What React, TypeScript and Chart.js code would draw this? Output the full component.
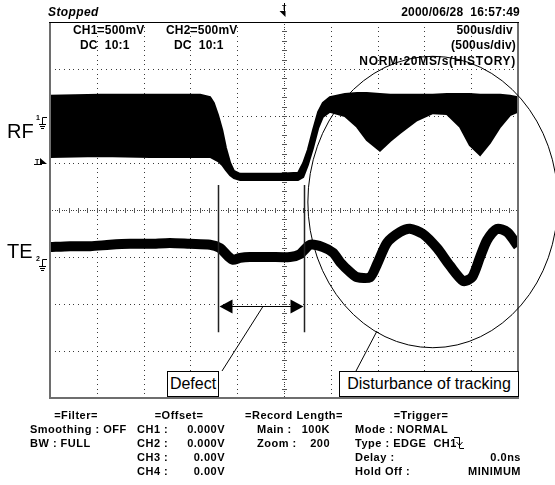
import React, { useEffect, useRef } from "react";
import { Chart, registerables } from "chart.js";

Chart.register(...registerables);

// ---- Data (x in divisions 0..10 at 500us/div, y in divisions -4..4) ----
const rfTime = [0, 1.07, 2.14, 3.21, 3.42, 3.5, 3.59, 3.68, 3.76, 3.85, 3.93, 4.06, 4.49, 4.92, 5.3, 5.41, 5.51, 5.62, 5.73, 5.83, 5.98, 6.3, 6.56, 6.77, 7.05, 7.27, 7.48, 7.84, 8.18, 8.48, 8.76, 8.97, 9.19, 9.4, 9.62, 9.83, 10];
const rfUpper = [2.43, 2.45, 2.45, 2.45, 2.4, 2.28, 2.02, 1.7, 1.32, 1.0, 0.83, 0.77, 0.77, 0.77, 0.79, 1.0, 1.28, 1.7, 2.09, 2.28, 2.4, 2.47, 2.49, 2.49, 2.47, 2.45, 2.45, 2.45, 2.45, 2.47, 2.47, 2.47, 2.45, 2.45, 2.45, 2.43, 2.4];
const rfLower = [1.13, 1.15, 1.13, 1.13, 1.13, 1.09, 1.04, 0.96, 0.85, 0.74, 0.68, 0.64, 0.64, 0.64, 0.64, 0.7, 0.96, 1.32, 1.74, 1.98, 2.09, 2.0, 1.77, 1.49, 1.26, 1.47, 1.64, 1.91, 2.06, 2.04, 1.77, 1.38, 1.17, 1.43, 1.77, 2.02, 2.09];

const teTime = [0, 0.43, 0.86, 1.28, 1.71, 2.14, 2.56, 2.99, 3.42, 3.63, 3.8, 3.91, 4.06, 4.27, 4.7, 5.13, 5.34, 5.56, 5.83, 6.05, 6.2, 6.41, 6.56, 6.84, 6.99, 7.2, 7.48, 7.69, 7.97, 8.27, 8.55, 8.83, 9.02, 9.19, 9.34, 9.55, 9.77, 10];
const teLevel = [-0.79, -0.77, -0.77, -0.74, -0.72, -0.72, -0.7, -0.72, -0.74, -0.81, -0.98, -1.06, -1.02, -1.0, -1.0, -1.0, -0.94, -0.74, -0.79, -0.91, -1.11, -1.32, -1.43, -1.43, -1.15, -0.7, -0.47, -0.4, -0.51, -0.81, -1.19, -1.51, -1.43, -1.0, -0.64, -0.4, -0.47, -0.77];

// markers (division units)
const ch1Ground = 1.9;
const ch2Ground = -1.12;
const triggerLevel = 1.0;
const defectFrom = 3.59;
const defectTo = 5.43;

// ---- Layout ----
const W = 555;
const H = 485;
const PLOT = { left: 50, top: 22, right: 518, bottom: 398 };

const fam = '"Liberation Sans", Arial, sans-serif';

type TextItem = { t: string; x: number; y: number; a?: "l" | "r" | "c"; s?: number; w?: string; i?: boolean; ls?: number };

const texts: TextItem[] = [
  { t: "Stopped", x: 48, y: 12, i: true, ls: 0.4 },
  { t: "2000/06/28  16:57:49", x: 520, y: 12, a: "r" },
  { t: "CH1=500mV", x: 73, y: 30 },
  { t: "DC  10:1", x: 80, y: 45 },
  { t: "CH2=500mV", x: 166, y: 30 },
  { t: "DC  10:1", x: 174, y: 45 },
  { t: "500us/div", x: 513, y: 30, a: "r" },
  { t: "(500us/div)", x: 516, y: 45, a: "r" },
  { t: "NORM:20MS/s(HISTORY)", x: 516, y: 61, a: "r", ls: 0.7 },
  { t: "RF", x: 7, y: 131, s: 20, w: "normal" },
  { t: "TE", x: 7, y: 251, s: 20, w: "normal" },
  { t: "1", x: 36, y: 117, s: 7 },
  { t: "2", x: 36, y: 258, s: 7 },
  { t: "T", x: 35, y: 161, s: 7 },
  { t: "T", x: 282, y: 7, s: 7 },
];

const rowY = [415, 429, 443, 457, 471];
const footer: TextItem[] = [
  { t: "=Filter=", x: 76, y: rowY[0], a: "c" },
  { t: "Smoothing : OFF", x: 30, y: rowY[1] },
  { t: "BW : FULL", x: 30, y: rowY[2] },
  { t: "=Offset=", x: 179, y: rowY[0], a: "c" },
  { t: "CH1 :", x: 137, y: rowY[1] },
  { t: "0.000V", x: 225, y: rowY[1], a: "r" },
  { t: "CH2 :", x: 137, y: rowY[2] },
  { t: "0.000V", x: 225, y: rowY[2], a: "r" },
  { t: "CH3 :", x: 137, y: rowY[3] },
  { t: "0.00V", x: 225, y: rowY[3], a: "r" },
  { t: "CH4 :", x: 137, y: rowY[4] },
  { t: "0.00V", x: 225, y: rowY[4], a: "r" },
  { t: "=Record Length=", x: 294, y: rowY[0], a: "c" },
  { t: "Main :", x: 257, y: rowY[1] },
  { t: "100K", x: 330, y: rowY[1], a: "r" },
  { t: "Zoom :", x: 257, y: rowY[2] },
  { t: "200", x: 330, y: rowY[2], a: "r" },
  { t: "=Trigger=", x: 421, y: rowY[0], a: "c" },
  { t: "Mode : NORMAL", x: 355, y: rowY[1] },
  { t: "Type : EDGE  CH1", x: 355, y: rowY[2] },
  { t: "Delay :", x: 355, y: rowY[3] },
  { t: "0.0ns", x: 521, y: rowY[3], a: "r" },
  { t: "Hold Off :", x: 355, y: rowY[4] },
  { t: "MINIMUM", x: 521, y: rowY[4], a: "r" },
];

function Txt({ it, size, ls }: { it: TextItem; size: number; ls: number }) {
  const s = it.s ?? size;
  const style: React.CSSProperties = {
    position: "absolute",
    top: it.y - 0.49 * s,
    font: `${it.i ? "italic " : ""}${it.w ?? "bold"} ${s}px ${fam}`,
    letterSpacing: `${it.ls ?? (it.s ? 0 : ls)}px`,
    lineHeight: 1,
    whiteSpace: "pre",
    color: "#000",
  };
  if (it.a === "r") style.right = W - it.x;
  else if (it.a === "c") {
    style.left = it.x;
    style.transform = "translateX(-50%)";
  } else style.left = it.x;
  return <div style={style}>{it.t}</div>;
}

const scopePlugin = {
  id: "scope",
  beforeDatasetsDraw(chart: any) {
    const { ctx, scales } = chart;
    const x = scales.x;
    const y = scales.y;
    ctx.save();
    ctx.fillStyle = "#3a3a3a";
    for (let i = 1; i < 10; i++) {
      if (i === 5) continue;
      const px = Math.round(x.getPixelForValue(i));
      for (let j = 0; j <= 80; j++) {
        const py = Math.round(y.getPixelForValue(-4 + j * 0.1));
        ctx.fillRect(px, py, 1, 1);
      }
    }
    for (let i = -3; i <= 3; i++) {
      if (i === 0) continue;
      const py = Math.round(y.getPixelForValue(i));
      for (let j = 0; j <= 100; j++) {
        const px = Math.round(x.getPixelForValue(j * 0.1));
        ctx.fillRect(px, py, 1, 1);
      }
    }
    const cx = Math.round(x.getPixelForValue(5));
    const cy = Math.round(y.getPixelForValue(0));
    for (let j = 0; j <= 160; j++) {
      const py = Math.round(y.getPixelForValue(-4 + j * 0.05));
      ctx.fillRect(cx, py, 1, 1);
    }
    for (let j = 0; j <= 200; j++) {
      const px = Math.round(x.getPixelForValue(j * 0.05));
      ctx.fillRect(px, cy, 1, 1);
    }
    ctx.fillStyle = "#555";
    for (let j = 1; j < 40; j++) {
      const py = Math.round(y.getPixelForValue(-4 + j * 0.2));
      ctx.fillRect(cx - 2, py, 5, 1);
    }
    for (let j = 1; j < 50; j++) {
      const px = Math.round(x.getPixelForValue(j * 0.2));
      ctx.fillRect(px, cy - 2, 1, 5);
    }
    ctx.restore();
  },
  afterDatasetsDraw(chart: any) {
    const { ctx, scales, chartArea: a } = chart;
    const x = scales.x;
    const y = scales.y;
    ctx.save();
    // frame
    ctx.strokeStyle = "#6e6e6e";
    ctx.lineWidth = 2;
    ctx.beginPath();
    ctx.moveTo(a.left, a.top);
    ctx.lineTo(a.left, a.bottom);
    ctx.lineTo(a.right, a.bottom);
    ctx.lineTo(a.right, a.top);
    ctx.stroke();
    ctx.strokeStyle = "#000";
    ctx.lineWidth = 1;
    ctx.beginPath();
    ctx.moveTo(a.left - 1, a.top + 0.5);
    ctx.lineTo(a.right + 1, a.top + 0.5);
    ctx.stroke();

    // defect markers
    const x1 = Math.round(x.getPixelForValue(defectFrom)) + 0.5;
    const x2 = Math.round(x.getPixelForValue(defectTo)) + 0.5;
    const yTop = y.getPixelForValue(0.53);
    const yBot = y.getPixelForValue(-2.6);
    const yArr = Math.round(y.getPixelForValue(-2.04)) + 0.5;
    ctx.strokeStyle = "#222";
    ctx.lineWidth = 1.5;
    ctx.beginPath();
    ctx.moveTo(x1, yTop);
    ctx.lineTo(x1, yBot);
    ctx.moveTo(x2, yTop);
    ctx.lineTo(x2, yBot);
    ctx.stroke();
    ctx.lineWidth = 1;
    ctx.strokeStyle = "#000";
    ctx.beginPath();
    ctx.moveTo(x1 + 10, yArr);
    ctx.lineTo(x2 - 10, yArr);
    ctx.stroke();
    ctx.fillStyle = "#000";
    ctx.beginPath();
    ctx.moveTo(x1 + 1, yArr);
    ctx.lineTo(x1 + 14, yArr - 7);
    ctx.lineTo(x1 + 14, yArr + 7);
    ctx.closePath();
    ctx.fill();
    ctx.beginPath();
    ctx.moveTo(x2 - 1, yArr);
    ctx.lineTo(x2 - 14, yArr - 7);
    ctx.lineTo(x2 - 14, yArr + 7);
    ctx.closePath();
    ctx.fill();
    ctx.beginPath();
    ctx.moveTo(x.getPixelForValue(4.55), yArr);
    ctx.lineTo(222, 371);
    ctx.stroke();

    // ellipse
    const ex = x.getPixelForValue(8.18);
    const ey = y.getPixelForValue(0.17);
    const rx = x.getPixelForValue(8.18 + 2.67) - ex;
    const ry = y.getPixelForValue(0.17 - 3.1) - ey;
    ctx.beginPath();
    ctx.ellipse(ex, ey, rx, ry, 0, 0, Math.PI * 2);
    ctx.stroke();
    ctx.beginPath();
    ctx.moveTo(377, 331);
    ctx.lineTo(356, 371);
    ctx.stroke();

    // ground / trigger markers at left
    const drawGround = (gy: number) => {
      const py = Math.round(y.getPixelForValue(gy));
      ctx.strokeStyle = "#000";
      ctx.lineWidth = 1;
      ctx.beginPath();
      ctx.moveTo(47, py - 3.5);
      ctx.lineTo(42.5, py - 3.5);
      ctx.lineTo(42.5, py + 3);
      ctx.moveTo(39, py + 3.5);
      ctx.lineTo(46, py + 3.5);
      ctx.moveTo(40, py + 5.5);
      ctx.lineTo(45, py + 5.5);
      ctx.moveTo(41, py + 7.5);
      ctx.lineTo(44, py + 7.5);
      ctx.stroke();
    };
    drawGround(ch1Ground);
    drawGround(ch2Ground);
    const ty = Math.round(y.getPixelForValue(triggerLevel));
    ctx.fillRect(34, ty + 1, 8, 1);
    ctx.beginPath();
    ctx.moveTo(40, ty - 5);
    ctx.lineTo(47, ty + 1);
    ctx.lineTo(40, ty + 1);
    ctx.closePath();
    ctx.fill();

    // trigger position marker at top
    const tx = Math.round(x.getPixelForValue(5)) + 0.5;
    ctx.beginPath();
    ctx.moveTo(tx, 3);
    ctx.lineTo(tx, 15);
    ctx.stroke();
    ctx.beginPath();
    ctx.moveTo(tx + 1, 17);
    ctx.lineTo(tx - 5, 11);
    ctx.lineTo(tx + 1, 11);
    ctx.closePath();
    ctx.fill();

    // trigger slope symbol in footer
    ctx.beginPath();
    ctx.moveTo(454, 437.5);
    ctx.lineTo(459.5, 437.5);
    ctx.lineTo(459.5, 448);
    ctx.moveTo(459.5, 448.5);
    ctx.lineTo(464, 448.5);
    ctx.moveTo(456.5, 442);
    ctx.lineTo(459.5, 445.5);
    ctx.lineTo(462.5, 442);
    ctx.stroke();
    ctx.restore();
  },
};

export default function App() {
  const ref = useRef<HTMLCanvasElement | null>(null);
  useEffect(() => {
    if (!ref.current) return;
    const pts = (xs: number[], ys: number[]) => xs.map((v, i) => ({ x: v, y: ys[i] }));
    const chart = new Chart(ref.current, {
      type: "line",
      data: {
        datasets: [
          {
            label: "RF upper",
            data: pts(rfTime, rfUpper),
            borderColor: "#000",
            borderWidth: 2,
            pointRadius: 0,
            fill: false,
          },
          {
            label: "RF lower",
            data: pts(rfTime, rfLower),
            borderColor: "#000",
            borderWidth: 2,
            pointRadius: 0,
            backgroundColor: "#000",
            fill: "-1",
          },
          {
            label: "TE",
            data: pts(teTime, teLevel),
            borderColor: "#000",
            borderWidth: 10,
            pointRadius: 0,
            tension: 0.25,
            fill: false,
          },
        ],
      },
      options: {
        responsive: false,
        animation: false,
        devicePixelRatio: 1,
        layout: {
          padding: { left: PLOT.left, top: PLOT.top, right: W - PLOT.right, bottom: H - PLOT.bottom },
        },
        plugins: { legend: { display: false }, tooltip: { enabled: false } },
        scales: {
          x: { type: "linear", min: 0, max: 10, display: false },
          y: { type: "linear", min: -4, max: 4, display: false },
        },
      },
      plugins: [scopePlugin],
    });
    return () => chart.destroy();
  }, []);

  const box: React.CSSProperties = {
    position: "absolute",
    top: 371,
    height: 26,
    boxSizing: "border-box",
    border: "1px solid #000",
    background: "#fff",
    font: `16px ${fam}`,
    lineHeight: "24px",
    textAlign: "center",
    whiteSpace: "nowrap",
  };

  return (
    <div style={{ position: "absolute", left: 0, top: 0, width: W, height: H, background: "#fff", overflow: "hidden" }}>
      <canvas ref={ref} width={W} height={H} style={{ position: "absolute", left: 0, top: 0, width: W, height: H }} />
      {texts.map((it, i) => (
        <Txt key={"t" + i} it={it} size={12} ls={0.2} />
      ))}
      {footer.map((it, i) => (
        <Txt key={"f" + i} it={it} size={11} ls={0.5} />
      ))}
      <div style={{ ...box, left: 167, width: 52 }}>Defect</div>
      <div style={{ ...box, left: 339, width: 180 }}>Disturbance of tracking</div>
    </div>
  );
}
